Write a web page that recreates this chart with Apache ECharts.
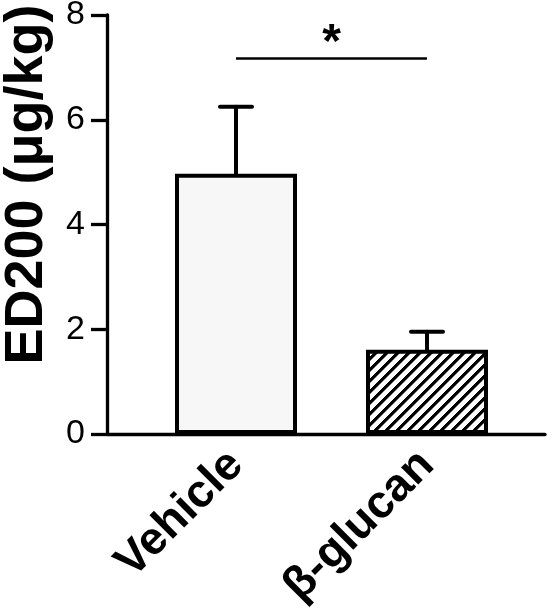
<!DOCTYPE html>
<html>
<head>
<meta charset="utf-8">
<script src="https://cdn.jsdelivr.net/npm/echarts@6/dist/echarts.min.js"></script>
<style>
html,body{margin:0;padding:0;background:#fff;}
#chart{width:555px;height:608px;}
</style>
</head>
<body>
<div id="chart"></div>
<script>
// ---- data ----
const categories = ['Vehicle', 'β-glucan'];
const means = [4.97, 1.61];
const upperErrors = [1.28, 0.34];
const yMin = 0, yMax = 8, yInterval = 2;
const yAxisTitle = 'ED200 (μg/kg)';
const sigFrom = 'Vehicle', sigTo = 'β-glucan', sigLevel = 7.18, sigLabel = '*';

// ---- seamless hatch pattern ("/" stripes) ----
function makeHatch() {
  const s = 11;
  const c = document.createElement('canvas');
  c.width = s; c.height = s;
  const g = c.getContext('2d');
  const img = g.createImageData(s, s);
  for (let y = 0; y < s; y++) {
    for (let x = 0; x < s; x++) {
      const k = (x + y) % s;
      let v = 255;
      if (k < 4) v = 0;
      else if (k === 4) v = 128;
      const i = (y * s + x) * 4;
      img.data[i] = v; img.data[i + 1] = v; img.data[i + 2] = v; img.data[i + 3] = 255;
    }
  }
  g.putImageData(img, 0, 0);
  return c;
}
const hatch = makeHatch();
const fills = ['#f7f7f7', { image: hatch, repeat: 'repeat' }];

const font = 'Liberation Sans, Arial, sans-serif';
const chart = echarts.init(document.getElementById('chart'), null, { renderer: 'canvas' });

const barData = means.map((v, i) => ({
  value: v,
  itemStyle: { color: fills[i], borderColor: '#000', borderWidth: 4 }
}));
const errData = means.map((v, i) => [i, v, v + upperErrors[i]]);

chart.setOption({
  animation: false,
  backgroundColor: '#ffffff',
  grid: [
    { left: 107, right: 10, top: 15, bottom: 174, containLabel: false, outerBoundsMode: 'none' },
    { left: 140.5, right: 32.5, top: 15, bottom: 174, containLabel: false, outerBoundsMode: 'none' }
  ],
  xAxis: [
    {
      gridIndex: 0, type: 'value', min: 0, max: 1,
      axisLine: { show: true, lineStyle: { color: '#000', width: 3.3 } },
      axisTick: { show: false }, axisLabel: { show: false }, splitLine: { show: false }
    },
    {
      gridIndex: 1, type: 'category', data: categories,
      axisLine: { show: false }, axisTick: { show: false }, splitLine: { show: false },
      axisLabel: {
        interval: 0, rotate: 45, margin: 24,
        color: '#000', fontFamily: font, fontWeight: 'bold', fontSize: 46
      }
    }
  ],
  yAxis: [
    {
      gridIndex: 0, type: 'value', min: yMin, max: yMax, interval: yInterval,
      name: yAxisTitle, nameLocation: 'middle', nameGap: 53,
      nameTextStyle: { color: '#000', fontFamily: font, fontWeight: 'bold', fontSize: 54, padding: [0, 0, 0, 80] },
      axisLine: { show: true, lineStyle: { color: '#000', width: 3.3 } },
      axisTick: { show: true, inside: false, length: 16, lineStyle: { color: '#000', width: 3.3 } },
      axisLabel: { color: '#000', fontFamily: font, fontSize: 34, margin: 22 },
      splitLine: { show: false }
    },
    {
      gridIndex: 1, type: 'value', min: yMin, max: yMax, interval: yInterval, show: false,
      splitLine: { show: false }
    }
  ],
  series: [
    {
      type: 'bar', xAxisIndex: 1, yAxisIndex: 1, data: barData, barWidth: 122, z: 2,
      markLine: {
        silent: true, symbol: 'none', animation: false,
        lineStyle: { color: '#000', width: 2.6, type: 'solid' },
        label: {
          show: true, position: 'middle', formatter: sigLabel, distance: -10,
          color: '#000', fontFamily: font, fontWeight: 'bold', fontSize: 48
        },
        data: [[{ coord: [sigFrom, sigLevel] }, { coord: [sigTo, sigLevel] }]]
      }
    },
    {
      type: 'custom', xAxisIndex: 1, yAxisIndex: 1, data: errData, z: 3,
      renderItem: function (params, api) {
        const x = api.value(0);
        const p0 = api.coord([x, api.value(1)]);
        const p1 = api.coord([x, api.value(2)]);
        const half = 16;
        const st = { stroke: '#000', lineWidth: 4, lineCap: 'round' };
        return {
          type: 'group',
          children: [
            { type: 'line', shape: { x1: p0[0], y1: p0[1], x2: p1[0], y2: p1[1] }, style: st },
            { type: 'line', shape: { x1: p1[0] - half, y1: p1[1], x2: p1[0] + half, y2: p1[1] }, style: st }
          ]
        };
      }
    }
  ]
});
</script>
</body>
</html>
